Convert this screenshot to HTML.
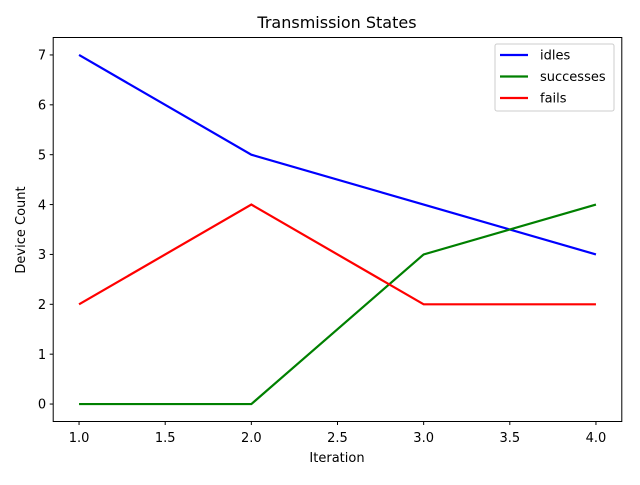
<!DOCTYPE html>
<html><head><meta charset="utf-8"><style>
body{margin:0;background:#fff;}
svg text{font-family:"DejaVu Sans","Liberation Sans",sans-serif;}
</style></head><body>
<svg id="chart" width="640" height="480" xmlns="http://www.w3.org/2000/svg">
<rect width="640" height="480" fill="#fff"/>
<g id="grid"></g>
<g id="marks"></g>
<rect x="53.2" y="37.5" width="568.6" height="384" fill="none" stroke="#000" stroke-width="1"/>
<text x="337" y="28" font-size="16" text-anchor="middle">Transmission States</text>
<text x="337" y="462" font-size="13" text-anchor="middle">Iteration</text>
<text transform="translate(25,230) rotate(-90)" font-size="13" text-anchor="middle">Device Count</text>
<g>
<rect x="495" y="44" width="119" height="67" fill="#fff" fill-opacity="0.8" stroke="#ccc" rx="2"/>
<g id="legend-items"></g>
</g>
</svg>
<script>
const iterations=[1,2,3,4];
const idles=[7,5,4,3];
const successes=[0,0,3,4];
const fails=[2,4,2,2];
const xTicks=[1.0,1.5,2.0,2.5,3.0,3.5,4.0];
const yTicks=[0,1,2,3,4,5,6,7];
const seriesNames=["idles","successes","fails"];
const colors=["#0000ff","#008000","#ff0000"];
const X0=53.2,X1=621.8,Y0=421.5,Y1=37.5,xmin=0.85,xmax=4.15,ymin=-0.35,ymax=7.35;
const sx=v=>X0+(v-xmin)/(xmax-xmin)*(X1-X0);
const sy=v=>Y0-(v-ymin)/(ymax-ymin)*(Y0-Y1);
const NS="http://www.w3.org/2000/svg";
const g=document.getElementById('grid'),m=document.getElementById('marks'),lg=document.getElementById('legend-items');
function mk(t,a,p){const e=document.createElementNS(NS,t);for(const k in a)e.setAttribute(k,a[k]);p.appendChild(e);return e;}
xTicks.forEach(v=>{const x=sx(v);
const l=mk('line',{x1:x,x2:x,y1:Y0,y2:Y0+3.5,stroke:'#000'},g);


const t=mk('text',{x:x,y:Y0+20.5,'font-size':13,'text-anchor':'middle'},g);t.textContent=v.toFixed(1);

});
yTicks.forEach(v=>{const y=sy(v);
const l=mk('line',{x1:X0-3.5,x2:X0,y1:y,y2:y,stroke:'#000'},g);


const t=mk('text',{x:X0-7,y:y+4.7,'font-size':13,'text-anchor':'end'},g);t.textContent=v;

});
[idles,successes,fails].forEach((s,i)=>{
const p=mk('polyline',{points:s.map((v,j)=>sx(iterations[j])+','+sy(v)).join(' '),fill:'none',stroke:colors[i],'stroke-width':2.2},m);


const y=55+i*21.5;
const ll=mk('line',{x1:500,x2:528,y1:y,y2:y,stroke:colors[i],'stroke-width':2.2},lg);


const t=mk('text',{x:540,y:y+4.7,'font-size':13},lg);t.textContent=seriesNames[i];


});
</script>
</body></html>
